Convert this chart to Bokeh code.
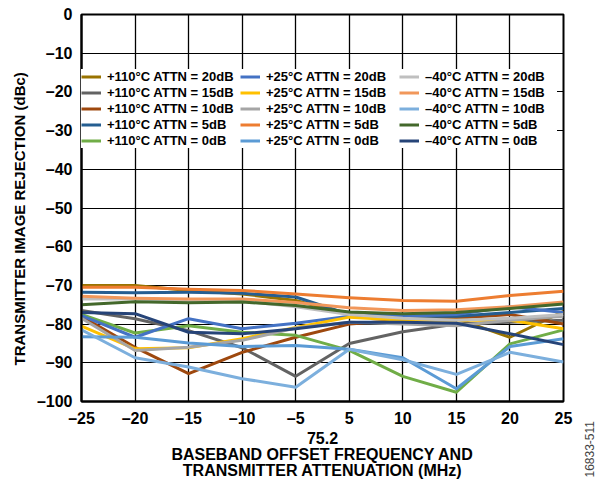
import math
from bokeh.plotting import figure
from bokeh.models import FixedTicker, Legend, LegendItem, Div, Title
from bokeh.layouts import row
from bokeh.embed import file_html
from bokeh.resources import INLINE

# ---------------- data ----------------
categories = ["–25", "–20", "–15", "–10", "–5", "5", "10", "15", "20", "25"]
y_ticks = [0, -10, -20, -30, -40, -50, -60, -70, -80, -90, -100]
y_tick_labels = ["0", "–10", "–20", "–30", "–40", "–50", "–60", "–70", "–80", "–90", "–100"]

t110_20 = [-70.0, -70.0, -71.3, -72.2, -73.9, -77.5, -78.0, -78.6, -83.4, -76.7]
t110_15 = [-76.5, -78.6, -81.7, -86.1, -93.5, -85.0, -82.0, -80.0, -79.5, -79.0]
t110_10 = [-78.0, -86.0, -92.8, -87.3, -83.4, -80.0, -79.0, -78.5, -77.5, -80.0]
t110_5 = [-71.8, -71.9, -71.8, -72.0, -73.0, -77.5, -78.0, -78.0, -77.0, -76.0]
t110_0 = [-77.5, -82.3, -80.4, -82.1, -82.9, -86.8, -93.5, -97.6, -85.1, -81.5]
t25_20 = [-77.8, -83.4, -78.6, -81.2, -79.8, -78.0, -78.0, -77.5, -75.5, -77.0]
t25_15 = [-80.5, -86.4, -86.1, -83.8, -80.9, -78.2, -79.0, -79.0, -79.0, -81.2]
t25_10 = [-78.5, -86.8, -86.0, -84.2, -81.0, -79.5, -80.0, -80.4, -79.0, -78.0]
t25_5 = [-70.5, -70.5, -71.0, -71.3, -72.2, -73.2, -73.9, -74.1, -72.6, -71.5]
t25_0 = [-83.3, -83.4, -84.9, -85.8, -85.5, -86.5, -88.7, -96.7, -85.8, -83.8]
tm40_20 = [-73.5, -73.5, -74.0, -74.0, -75.5, -77.5, -78.5, -79.0, -78.5, -77.5]
tm40_15 = [-72.8, -73.3, -73.5, -73.5, -74.4, -75.8, -76.5, -76.3, -75.5, -74.3]
tm40_10 = [-81.5, -88.7, -91.1, -94.1, -96.3, -86.5, -89.2, -93.0, -87.3, -89.8]
tm40_5 = [-75.0, -74.2, -74.5, -74.3, -75.2, -76.9, -77.3, -77.0, -76.0, -74.8]
tm40_0 = [-77.0, -77.3, -82.1, -82.5, -81.2, -79.5, -79.5, -79.8, -82.5, -85.3]

series_names = [
    "+110°C ATTN = 20dB", "+110°C ATTN = 15dB", "+110°C ATTN = 10dB", "+110°C ATTN = 5dB", "+110°C ATTN = 0dB",
    "+25°C ATTN = 20dB", "+25°C ATTN = 15dB", "+25°C ATTN = 10dB", "+25°C ATTN = 5dB", "+25°C ATTN = 0dB",
    "–40°C ATTN = 20dB", "–40°C ATTN = 15dB", "–40°C ATTN = 10dB", "–40°C ATTN = 5dB", "–40°C ATTN = 0dB",
]
series_values = [t110_20, t110_15, t110_10, t110_5, t110_0,
                 t25_20, t25_15, t25_10, t25_5, t25_0,
                 tm40_20, tm40_15, tm40_10, tm40_5, tm40_0]
y_title = "TRANSMITTER IMAGE REJECTION (dBc)"
x_title = "75.2\nBASEBAND OFFSET FREQUENCY AND\nTRANSMITTER ATTENUATION (MHz)"
figure_id = "16833-511"

# ---------------- styles ----------------
colors = ["#997300", "#636363", "#9E480E", "#255E91", "#70AD47",
          "#4472C4", "#FFC000", "#A5A5A5", "#ED7D31", "#5B9BD5",
          "#BFBFBF", "#F1975A", "#7CAFDD", "#43682B", "#264478"]
FONT = "Liberation Sans"

x = list(range(len(categories)))

p = figure(frame_width=482, frame_height=387, output_backend="svg", toolbar_location=None,
           x_range=(0, len(categories) - 1), y_range=(-100, 0),
           min_border_left=81, min_border_right=21, min_border_top=14, min_border_bottom=80)
p.background_fill_color = "white"
p.border_fill_color = "white"
p.outline_line_color = "black"
p.outline_line_width = 2

renderers = []
for vals, col in zip(series_values, colors):
    r = p.line(x, vals, line_color=col, line_width=3, line_join="round")
    renderers.append(r)

# axes
xa = p.xaxis[0]
xa.ticker = FixedTicker(ticks=x)
xa.major_label_overrides = {i: c for i, c in zip(x, categories)}
ya = p.yaxis[0]
ya.ticker = FixedTicker(ticks=y_ticks)
ya.major_label_overrides = {t: l for t, l in zip(y_ticks, y_tick_labels)}
for ax in (xa, ya):
    ax.axis_line_color = "black"
    ax.axis_line_width = 2
    ax.major_tick_out = 0
    ax.major_tick_in = 0
    ax.minor_tick_line_color = None
    ax.major_label_text_font = FONT
    ax.major_label_text_font_style = "bold"
    ax.major_label_text_font_size = "16px"
    ax.major_label_text_color = "black"
    ax.axis_label_text_font = FONT
    ax.axis_label_text_font_style = "bold"
    ax.axis_label_text_color = "black"
xa.major_label_standoff = 8
ya.major_label_standoff = 9
xa.axis_label = x_title
xa.axis_label_text_font_size = "16px"
xa.axis_label_text_line_height = 0.95
xa.axis_label_standoff = 0

# y title as a left-side Title so that it can be shifted along the axis
ytitle = Title(text=y_title, align="left", offset=36, standoff=11,
               text_font=FONT, text_font_style="bold", text_font_size="15px",
               text_color="black")
p.add_layout(ytitle, "left")

p.xgrid.ticker = FixedTicker(ticks=x)
p.ygrid.ticker = FixedTicker(ticks=y_ticks)
p.xgrid.grid_line_color = "black"
p.xgrid.grid_line_width = 1.3
p.ygrid.grid_line_color = "black"
p.ygrid.grid_line_width = 1

items = [LegendItem(label=n, renderers=[r]) for n, r in zip(series_names, renderers)]
legend = Legend(items=items, location=(0, 253), nrows=5, orientation="vertical",
                glyph_width=20, glyph_height=15, label_height=15, label_width=132,
                label_standoff=6, spacing=1, padding=3, margin=0,
                label_text_font=FONT, label_text_font_style="bold",
                label_text_font_size="13px", label_text_color="black",
                background_fill_color="white", background_fill_alpha=1.0,
                border_line_color=None)
p.add_layout(legend)

note = Div(width=14, height=481,
           text=('<div style="position:relative; left:-5px; margin-top:416px; writing-mode:vertical-rl; '
                 'transform:rotate(180deg); font-family:\'Liberation Sans\'; font-size:12px; '
                 'line-height:12px; color:#444; white-space:nowrap;">' + figure_id + '</div>'))

layout = row(p, note, spacing=0)
open("out.html", "w").write(file_html(layout, INLINE))
